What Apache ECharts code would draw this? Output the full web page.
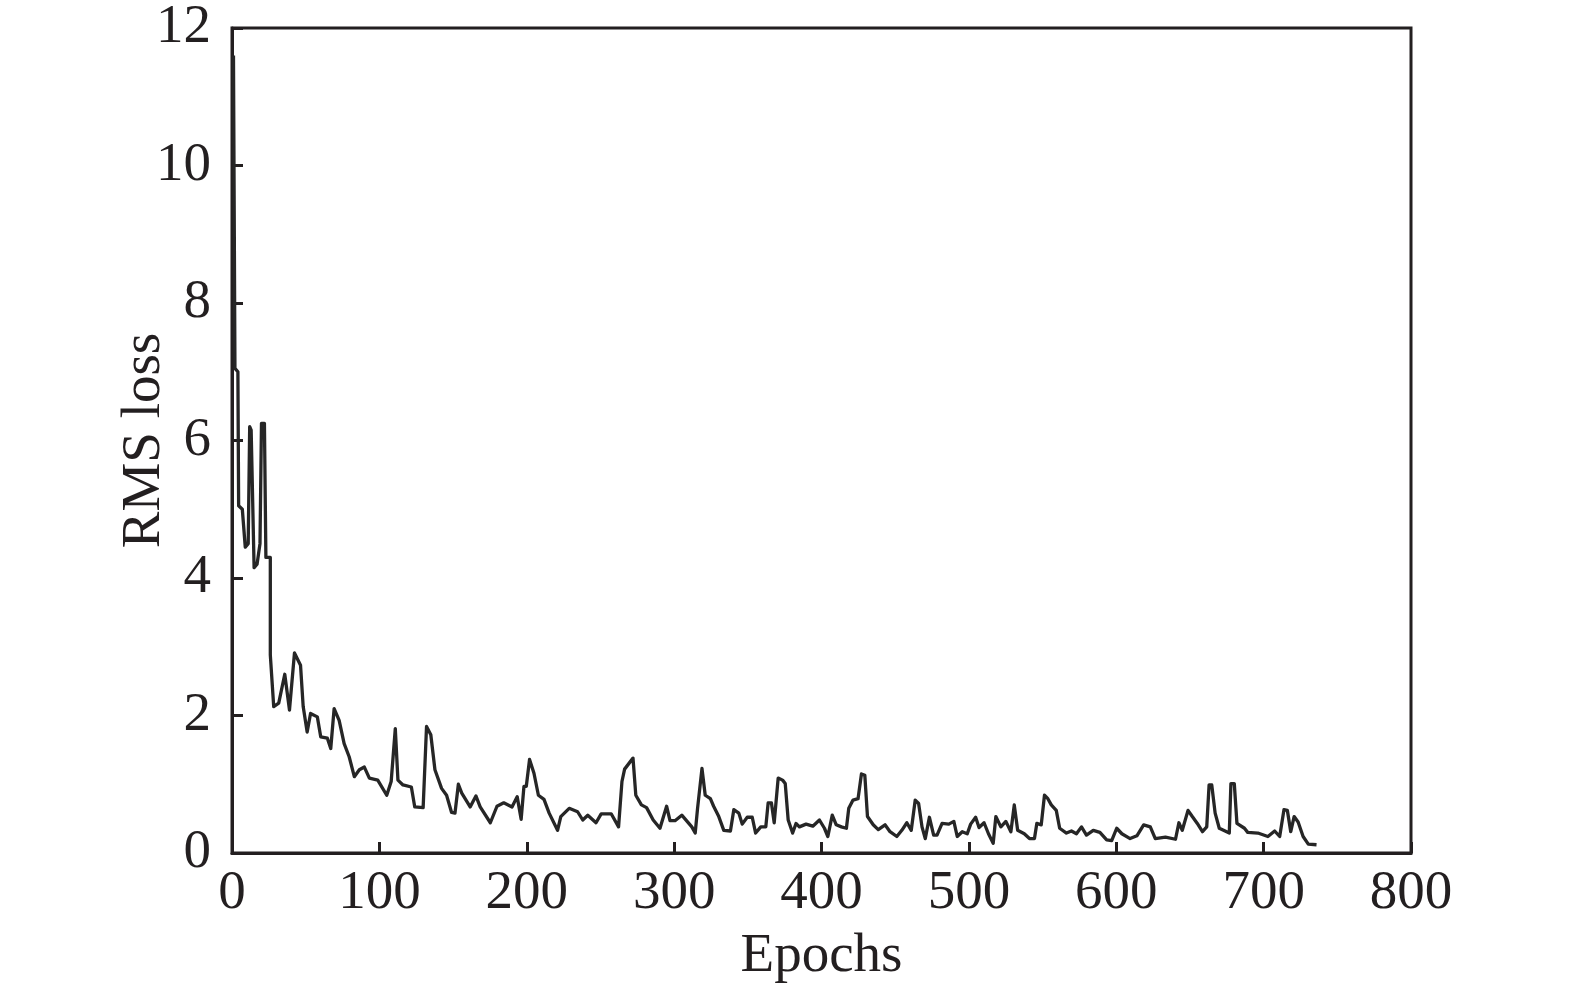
<!DOCTYPE html>
<html><head><meta charset="utf-8">
<script src="https://cdn.jsdelivr.net/npm/echarts@6/dist/echarts.min.js"></script>
<style>html,body{margin:0;padding:0;background:#fff}#c{width:1575px;height:990px}</style>
</head><body><div id="c"></div>
<script>
const epochs = [1,2,4,4.5,7,9,11,12,13,15,17,19,20,22,23,26,
26,28.3,31.7,35.8,39,42.4,46.5,48.3,51,53.3,57.9,60.2,64.7,67,69.3,72.7,76.1,79.5,83,86.4,89.8,93.2,98.9,105,108,110.8,112.6,116,121.7,124,129.7,132,134.9,137.7,142.2,145.6,149,151.3,153.6,155.9,161.6,
165.5,168.4,175.3,179.8,184.4,190,193.5,196.2,198.1,199.7,201.9,204.9,207.9,211.7,215.2,220.9,223.1,228.8,234.5,238,241.4,247,250.5,257.3,262.3,264.6,266.4,272.1,274,277.8,281.3,285.8,290.4,294.9,297.2,300.6,305.2,312,314.3,315.9,318.9,
321.1,324.6,326.8,330.3,333.7,338.2,340.5,343.9,346.2,349.6,353,355.3,358.8,362.2,363.8,366,367.9,369,370.6,373.6,375.4,377.4,380.4,382.7,385,389.5,394.1,398.6,402,404.3,407.3,410,413.5,416.9,418.5,421.4,424.8,427.1,429.4,431.2,435.1,438.5,443.1,446.5,451.1,454.5,457.9,460.9,463.6,465.9,468.2,470.4,473.2,476.1,478.4,
481.8,486.4,489.8,492.1,495.5,498.9,501.2,504.6,506.9,510.3,513.3,516.5,518.3,521.7,525.1,528.5,530.8,533.1,537.6,541.1,544.5,546.1,549.1,551.3,553.6,555.9,559.3,561.6,566.2,569.6,573,576.4,579.8,584.4,588.9,593.5,596.9,600.3,603.8,609.4,614,618.6,623.1,626.5,633.4,
640.2,642.5,644.8,648.7,651.6,655,658.5,661.4,663,664.8,667.1,669.9,676.7,677.8,680.1,681.9,687,689.2,696.1,702.9,707.5,710.9,713.8,716.1,718.4,720.7,723.4,726.8,730.3,735.9];
const rmsLoss = [11.6,7.05,7.0,5.05,5.0,4.45,4.5,6.2,6.15,4.15,4.2,4.5,6.25,6.25,4.3,4.3,
2.88,2.13,2.18,2.6,2.08,2.91,2.73,2.13,1.76,2.03,1.98,1.69,1.67,1.52,2.1,1.93,1.59,1.4,1.11,1.21,1.25,1.09,1.06,0.84,1.04,1.81,1.06,0.99,0.96,0.67,0.66,1.84,1.72,1.21,0.94,0.84,0.59,0.58,1.0,0.87,0.67,
0.83,0.67,0.44,0.68,0.73,0.67,0.82,0.49,0.97,0.97,1.36,1.16,0.84,0.78,0.58,0.33,0.53,0.65,0.6,0.48,0.55,0.44,0.57,0.57,0.38,1.04,1.22,1.38,0.84,0.7,0.66,0.48,0.36,0.68,0.47,0.47,0.55,0.38,0.29,0.65,1.23,
0.84,0.79,0.68,0.53,0.33,0.32,0.63,0.58,0.42,0.52,0.52,0.29,0.38,0.38,0.73,0.73,0.44,0.44,1.09,1.06,1.01,0.48,0.29,0.43,0.38,0.42,0.39,0.48,0.36,0.24,0.55,0.41,0.38,0.36,0.65,0.77,0.79,1.15,1.13,0.53,0.41,0.34,0.41,0.31,0.24,0.33,0.44,0.33,0.77,0.72,0.38,0.21,0.52,0.26,0.26,
0.43,0.42,0.46,0.24,0.31,0.28,0.42,0.52,0.37,0.44,0.28,0.14,0.53,0.38,0.46,0.31,0.7,0.33,0.28,0.21,0.21,0.43,0.41,0.84,0.79,0.7,0.62,0.36,0.29,0.32,0.28,0.38,0.26,0.33,0.3,0.19,0.18,0.36,0.28,0.21,0.25,0.41,0.38,0.21,0.23,
0.2,0.44,0.33,0.62,0.53,0.43,0.31,0.38,0.99,0.99,0.58,0.36,0.29,1.01,1.01,0.43,0.36,0.3,0.29,0.24,0.32,0.24,0.63,0.62,0.31,0.53,0.45,0.24,0.13,0.12];
const xTicks = [0,100,200,300,400,500,600,700,800];
const yTicks = [0,2,4,6,8,10,12];

const ink = '#231f20';
const font = 'Liberation Serif';
const data = epochs.map((e,i)=>[e, rmsLoss[i]]);
const chart = echarts.init(document.getElementById('c'), null, {renderer:'canvas'});
chart.setOption({
  animation:false,
  backgroundColor:'#fff',
  grid:{left:232,right:164,top:28,bottom:137,show:true,borderColor:ink,borderWidth:3,backgroundColor:'transparent'},
  xAxis:{type:'value',min:xTicks[0],max:xTicks[xTicks.length-1],interval:100,
    name:'Epochs',nameLocation:'middle',nameGap:76,nameMoveOverlap:false,
    nameTextStyle:{fontFamily:font,fontSize:55,color:ink},
    axisLine:{show:true,onZero:false,lineStyle:{color:ink,width:3}},
    axisTick:{show:true,inside:true,length:11,lineStyle:{color:ink,width:3}},
    axisLabel:{fontFamily:font,fontSize:55,color:ink,margin:13},
    splitLine:{show:false}},
  yAxis:{type:'value',min:yTicks[0],max:yTicks[yTicks.length-1],interval:2,
    name:'RMS loss',nameLocation:'middle',nameGap:60,nameMoveOverlap:false,
    nameTextStyle:{fontFamily:font,fontSize:55,color:ink},
    axisLine:{show:true,lineStyle:{color:ink,width:3}},
    axisTick:{show:true,inside:true,length:11,lineStyle:{color:ink,width:3}},
    axisLabel:{fontFamily:font,fontSize:55,color:ink,margin:21},
    splitLine:{show:false}},
  series:[{type:'line',data:data,showSymbol:false,symbol:'none',
    lineStyle:{color:'#262626',width:3.3,join:'round'}}]
});
</script></body></html>
